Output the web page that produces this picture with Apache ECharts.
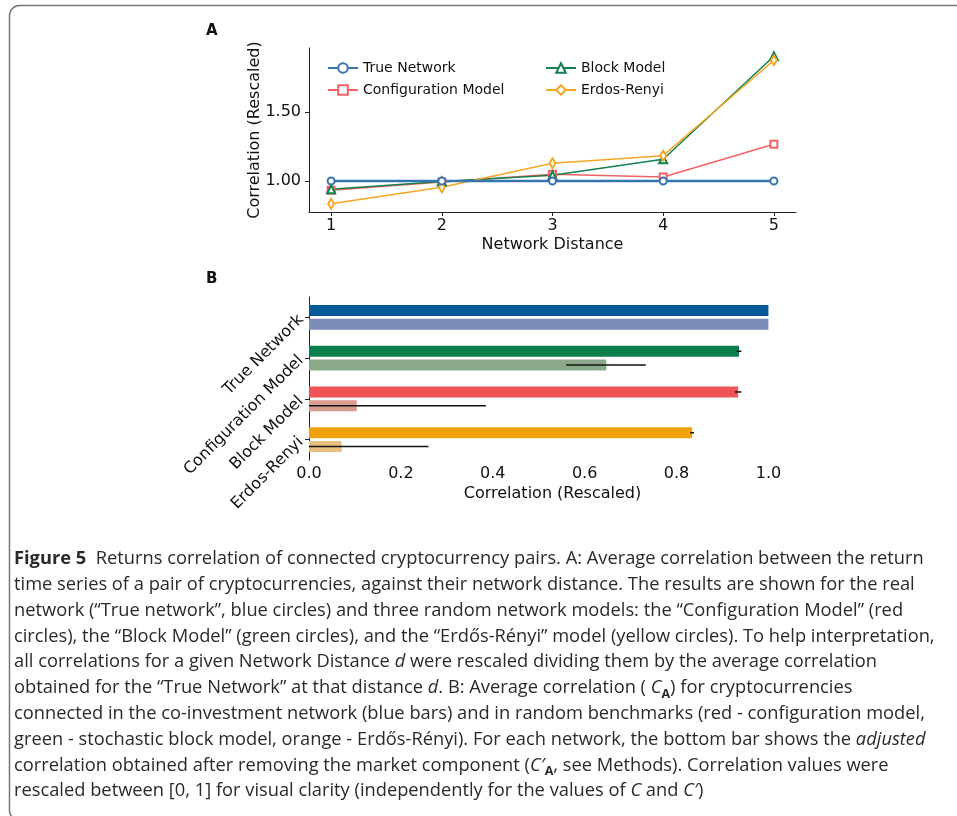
<!DOCTYPE html>
<html>
<head>
<meta charset="utf-8">
<script src="https://cdn.jsdelivr.net/npm/echarts@6/dist/echarts.min.js"></script>
<style>
html, body { margin: 0; padding: 0; background: #fff; }
#main { width: 957px; height: 816px; }
</style>
</head>
<body>
<div id="main"></div>
<script>
// panel A: correlation vs network distance
var distances = [1, 2, 3, 4, 5];
var trueNetwork = [1.0, 1.0, 1.0, 1.0, 1.0];
var configModel = [0.932, 0.993, 1.049, 1.029, 1.267];
var blockModel = [0.94, 0.997, 1.041, 1.158, 1.905];
var erdosRenyi = [0.835, 0.954, 1.129, 1.184, 1.876];
var yTicksA = [1.0, 1.5];

// panel B: average correlation per network (C on top, C' below)
var networks = ['True Network', 'Configuration Model', 'Block Model', 'Erdos-Renyi'];
var corrC = [1.0, 0.936, 0.934, 0.834];
var corrCLow = [1.0, 0.931, 0.927, 0.830];
var corrCHigh = [1.0, 0.941, 0.941, 0.838];
var corrAdj = [1.0, 0.647, 0.104, 0.071];
var corrAdjLow = [1.0, 0.560, 0, 0];
var corrAdjHigh = [1.0, 0.733, 0.385, 0.260];
var xTicksB = [0, 0.2, 0.4, 0.6, 0.8, 1.0];

var darkColors = ['#035a96', '#0b7f4b', '#f05355', '#f0a00b'];
var lightColors = ['#7b8db8', '#8ba98a', '#dc9b8f', '#e6c07f'];

var captionLines = [
    '{b|Figure 5}  Returns correlation of connected cryptocurrency pairs. A: Average correlation between the return',
    'time series of a pair of cryptocurrencies, against their network distance. The results are shown for the real',
    'network (\u201cTrue network\u201d, blue circles) and three random network models: the \u201cConfiguration Model\u201d (red',
    'circles), the \u201cBlock Model\u201d (green circles), and the \u201cErd\u0151s-R\u00e9nyi\u201d model (yellow circles). To help interpretation,',
    'all correlations for a given Network Distance {i|d} were rescaled dividing them by the average correlation',
    'obtained for the \u201cTrue Network\u201d at that distance {i|d}. B: Average correlation ( {i|C}{sub|A}) for cryptocurrencies',
    'connected in the co-investment network (blue bars) and in random benchmarks (red - configuration model,',
    'green - stochastic block model, orange - Erd\u0151s-R\u00e9nyi). For each network, the bottom bar shows the {i|adjusted}',
    'correlation obtained after removing the market component ({i|C\u2032}{sub|A}, see Methods). Correlation values were',
    'rescaled between [0, 1] for visual clarity (independently for the values of {i|C} and {i|C\u2032})'
];

var FONT = 'DejaVu Sans';
var CAP_FONT = 'Open Sans';
var CAP_SIZE = 18.3;
var axisCol = '#222';

function pairs(ys) {
    return distances.map(function (d, i) { return [d, ys[i]]; });
}

function lineSeries(name, ys, color, symbol, size, width) {
    return {
        name: name,
        type: 'line',
        xAxisIndex: 0,
        yAxisIndex: 0,
        data: pairs(ys),
        symbol: symbol,
        symbolSize: size,
        showSymbol: true,
        itemStyle: { color: color, borderWidth: 1.2 },
        lineStyle: { color: color, width: width },
        emphasis: { disabled: true }
    };
}

var errData = [];
networks.forEach(function (n, i) {
    errData.push([corrCLow[i], corrCHigh[i], i, 0]);
    errData.push([corrAdjLow[i], corrAdjHigh[i], i, 1]);
});

var graphics = [{
    type: 'rect',
    shape: { x: 9.5, y: 5.5, width: 1000, height: 815, r: 10 },
    style: { fill: 'none', stroke: '#777', lineWidth: 1.5 },
    silent: true
}, {
    type: 'text', x: 206, y: 31,
    style: { text: 'A', font: 'bold 15px "DejaVu Sans"', fill: '#111', verticalAlign: 'middle' }
}, {
    type: 'text', x: 206, y: 279,
    style: { text: 'B', font: 'bold 15px "DejaVu Sans"', fill: '#111', verticalAlign: 'middle' }
}];

captionLines.forEach(function (t, k) {
    graphics.push({
        type: 'text',
        x: 14,
        y: 559 + 25.8 * k,
        silent: true,
        style: {
            text: t,
            fontFamily: CAP_FONT,
            fontSize: CAP_SIZE,
            fill: '#2a2a2a',
            verticalAlign: 'middle',
            rich: {
                b: { fontFamily: CAP_FONT, fontSize: CAP_SIZE, fontWeight: 'bold', fill: '#2a2a2a' },
                i: { fontFamily: CAP_FONT, fontSize: CAP_SIZE, fontStyle: 'italic', fill: '#2a2a2a' },
                sub: { fontFamily: CAP_FONT, fontSize: 12.5, fontWeight: 'bold', fill: '#2a2a2a', verticalAlign: 'bottom', lineHeight: 26 }
            }
        }
    });
});

var tickLabel = { fontFamily: FONT, fontSize: 16, color: '#111' };

var option = {
    animation: false,
    backgroundColor: '#fff',
    textStyle: { fontFamily: FONT },
    grid: [
        { left: 309, top: 48, width: 487, height: 164 },
        { left: 309, top: 297, width: 487, height: 163 }
    ],
    legend: [{
        data: ['True Network', 'Configuration Model'],
        orient: 'vertical',
        left: 322, top: 56,
        itemWidth: 30, itemHeight: 12, itemGap: 8,
        selectedMode: false,
        textStyle: { fontFamily: FONT, fontSize: 14, color: '#111' }
    }, {
        data: ['Block Model', 'Erdos-Renyi'],
        orient: 'vertical',
        left: 540, top: 56,
        itemWidth: 30, itemHeight: 12, itemGap: 8,
        selectedMode: false,
        textStyle: { fontFamily: FONT, fontSize: 14, color: '#111' }
    }],
    xAxis: [{
        gridIndex: 0,
        type: 'value',
        min: 0.8, max: 5.2,
        axisLine: { onZero: false, lineStyle: { color: axisCol, width: 1 } },
        axisTick: { customValues: distances, length: 4, lineStyle: { color: axisCol } },
        axisLabel: Object.assign({ customValues: distances, margin: 6 }, tickLabel),
        splitLine: { show: false },
        name: 'Network Distance',
        nameLocation: 'middle',
        nameGap: 25,
        nameTextStyle: { fontFamily: FONT, fontSize: 16, color: '#111' }
    }, {
        gridIndex: 1,
        type: 'value',
        min: 0, max: 1.06,
        axisLine: { onZero: false, lineStyle: { color: axisCol, width: 1 } },
        axisTick: { customValues: xTicksB, length: 4, lineStyle: { color: axisCol } },
        axisLabel: Object.assign({
            customValues: xTicksB, margin: 6,
            formatter: function (v) { return v.toFixed(1); }
        }, tickLabel),
        splitLine: { show: false },
        name: 'Correlation (Rescaled)',
        nameLocation: 'middle',
        nameGap: 26,
        nameTextStyle: { fontFamily: FONT, fontSize: 16, color: '#111' }
    }],
    yAxis: [{
        gridIndex: 0,
        type: 'value',
        min: 0.775, max: 1.965,
        axisLine: { show: true, onZero: false, lineStyle: { color: axisCol, width: 1 } },
        axisTick: { show: true, customValues: yTicksA, length: 4, lineStyle: { color: axisCol } },
        axisLabel: Object.assign({
            customValues: yTicksA, margin: 8,
            formatter: function (v) { return v.toFixed(2); }
        }, tickLabel),
        splitLine: { show: false },
        name: 'Correlation (Rescaled)',
        nameLocation: 'middle',
        nameGap: 46,
        nameMoveOverlap: false,
        nameTextStyle: { fontFamily: FONT, fontSize: 16, color: '#111' }
    }, {
        gridIndex: 1,
        type: 'category',
        data: networks,
        inverse: true,
        axisLine: { show: true, lineStyle: { color: axisCol, width: 1 } },
        axisTick: { show: true, alignWithLabel: true, length: 4, lineStyle: { color: axisCol } },
        axisLabel: Object.assign({ rotate: 45, margin: 8 }, tickLabel),
        splitLine: { show: false }
    }],
    series: [
        lineSeries('Configuration Model', configModel, '#f26264', 'emptyRect', 7, 1.5),
        lineSeries('Block Model', blockModel, '#15804f', 'emptyTriangle', 8, 1.5),
        lineSeries('Erdos-Renyi', erdosRenyi, '#f5a623', 'emptyDiamond', [6, 10], 1.5),
        lineSeries('True Network', trueNetwork, '#3676ae', 'emptyCircle', 7, 2.5),
        {
            name: 'C',
            type: 'bar',
            xAxisIndex: 1,
            yAxisIndex: 1,
            barWidth: 11,
            barGap: '25%',
            data: corrC.map(function (v, i) { return { value: v, itemStyle: { color: darkColors[i] } }; }),
            emphasis: { disabled: true }
        },
        {
            name: 'C\u2032',
            type: 'bar',
            xAxisIndex: 1,
            yAxisIndex: 1,
            barWidth: 11,
            barGap: '25%',
            data: corrAdj.map(function (v, i) { return { value: v, itemStyle: { color: lightColors[i] } }; }),
            emphasis: { disabled: true }
        },
        {
            name: 'err',
            type: 'custom',
            xAxisIndex: 1,
            yAxisIndex: 1,
            z: 5,
            encode: { x: [0, 1], y: 2 },
            data: errData,
            renderItem: function (params, api) {
                var a = api.coord([api.value(0), api.value(2)]);
                var b = api.coord([api.value(1), api.value(2)]);
                var off = api.value(3) === 0 ? -6.9 : 6.9;
                return {
                    type: 'line',
                    shape: { x1: a[0], y1: a[1] + off, x2: b[0], y2: b[1] + off },
                    style: { stroke: '#111', lineWidth: 1.5 }
                };
            }
        }
    ],
    graphic: graphics
};

var chart = echarts.init(document.getElementById('main'));
chart.setOption(option);
</script>
</body>
</html>
